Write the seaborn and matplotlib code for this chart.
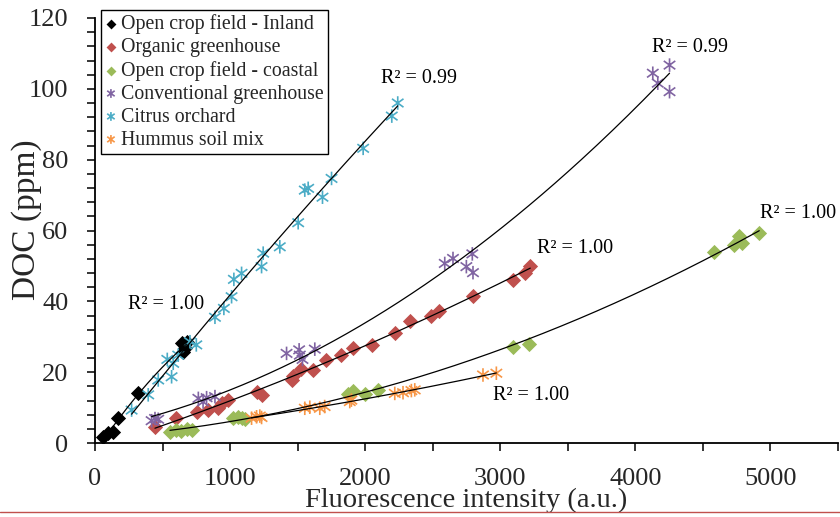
import numpy as np
import pandas as pd
import matplotlib
matplotlib.use("Agg")
import matplotlib.pyplot as plt
from matplotlib.lines import Line2D
from matplotlib.path import Path
from matplotlib.ticker import MultipleLocator
import seaborn as sns

# ---- data ----
inland_x = [62, 99, 135, 172, 320, 641, 653, 666, 678]
inland_y = [1.8, 2.7, 3.2, 7.0, 14.2, 28.1, 25.8, 26.7, 28.6]

organic_x = [444, 599, 757, 838, 912, 937, 986, 1196, 1233, 1455, 1467, 1528, 1615, 1713,
             1824, 1910, 2054, 2219, 2335, 2490, 2547, 2798, 3094, 3180, 3222]
organic_y = [4.6, 7.0, 8.7, 9.3, 9.8, 11.2, 12.1, 14.4, 13.6, 17.8, 18.9, 20.8, 20.6, 23.4,
             24.8, 26.7, 27.7, 31.1, 34.5, 35.9, 37.4, 41.5, 46.0, 47.9, 50.0]

coastal_x = [555, 600, 640, 680, 716, 1023, 1060, 1090, 1109, 1873, 1910, 1997, 2095,
             3094, 3212, 4585, 4733, 4764, 4793, 4917]
coastal_y = [3.2, 3.6, 3.4, 3.9, 3.8, 7.0, 7.4, 7.0, 6.8, 13.8, 14.8, 13.7, 15.0,
             27.0, 28.0, 54.0, 55.9, 58.4, 56.4, 59.4]

conv_x = [419, 444, 468, 765, 800, 826, 888, 1418, 1511, 1516, 1536, 1627,
          2589, 2650, 2749, 2793, 2798, 4129, 4166, 4253, 4253]
conv_y = [6.3, 6.9, 6.7, 12.6, 11.6, 12.8, 13.1, 25.3, 26.3, 24.8, 23.6, 26.5,
          50.7, 52.1, 49.8, 53.4, 48.1, 104.4, 101.6, 106.7, 99.2]

citrus_x = [271, 394, 468, 535, 567, 579, 616, 703, 750, 888, 954, 1011, 1028, 1085,
            1233, 1245, 1368, 1504, 1553, 1578, 1684, 1751, 1985, 2197, 2241]
citrus_y = [9.3, 13.6, 17.8, 23.6, 18.7, 22.5, 24.8, 28.6, 27.7, 35.5, 38.0, 41.3, 46.2, 47.9,
            49.8, 53.6, 55.4, 62.2, 71.4, 71.9, 69.4, 74.7, 83.2, 92.3, 96.0]

humus_x = [1159, 1196, 1220, 1233, 1553, 1590, 1664, 1700, 1886, 1898, 2219, 2280, 2342,
           2367, 2872, 2971]
humus_y = [7.0, 7.4, 7.6, 7.2, 9.8, 10.1, 9.8, 10.3, 11.7, 12.1, 14.0, 14.2, 14.8,
           15.0, 19.2, 19.7]

series_names = ["Open crop field - Inland", "Organic greenhouse", "Open crop field - coastal",
                "Conventional greenhouse", "Citrus orchard", "Hummus soil mix"]
r2_labels = ["R\u00b2 = 1.00", "R\u00b2 = 1.00", "R\u00b2 = 1.00",
             "R\u00b2 = 0.99", "R\u00b2 = 0.99", "R\u00b2 = 1.00"]
x_ticks = [0, 1000, 2000, 3000, 4000, 5000]
y_ticks = [0, 20, 40, 60, 80, 100, 120]

# ---- style ----
sns.set_theme(style="white")
plt.rcParams["font.family"] = ["Liberation Serif", "DejaVu Serif"]

colors = ["#000000", "#C0504D", "#9BBB59", "#8064A2", "#4BACC6", "#F79646"]
M, L = Path.MOVETO, Path.LINETO
ast = Path([(0, -1), (0, 1), (-0.85, -0.62), (0.85, 0.62), (-0.85, 0.62), (0.85, -0.62)],
           [M, L, M, L, M, L])
markers = ["D", "D", "D", ast, ast, ast]
xs = [inland_x, organic_x, coastal_x, conv_x, citrus_x, humus_x]
ys = [inland_y, organic_y, coastal_y, conv_y, citrus_y, humus_y]
label_pos = [(525, 39.0), (3557, 54.8), (5207, 64.7), (4408, 111.8), (2396, 102.8), (3225, 13.3)]

W, H = 840, 517
fig = plt.figure(figsize=(W / 100, H / 100), dpi=100)
ax = fig.add_axes([95 / W, 1 - 443 / H, (838 - 95) / W, (443 - 18) / H])

for name, x, y, c, m in zip(series_names, xs, ys, colors, markers):
    df = pd.DataFrame({"x": x, "y": y})
    if isinstance(m, str):
        sns.scatterplot(data=df, x="x", y="y", marker="D", color=c, s=60,
                        linewidth=0, ax=ax, label=name, zorder=2)
    else:
        sns.scatterplot(data=df, x="x", y="y", marker=m, color=c, edgecolor=c,
                        facecolor="none", s=95, linewidth=1.2, ax=ax, label=name, zorder=2)
    coef = np.polyfit(x, y, 2)
    xx = np.linspace(min(x), max(x), 200)
    ax.plot(xx, np.polyval(coef, xx), color="black", lw=0.9, zorder=3)

for lab, (tx, ty) in zip(r2_labels, label_pos):
    ax.text(tx, ty, lab, fontsize=14.5, ha="center", va="center", color="black")

ax.set_xlim(0, 5500)
ax.set_ylim(0, 120)
ax.set_xticks(x_ticks)
ax.set_yticks(y_ticks)
ax.xaxis.set_minor_locator(MultipleLocator(500))
ax.yaxis.set_minor_locator(MultipleLocator(4))
ax.tick_params(axis="both", which="both", direction="out", length=6, width=1.1,
               color="black", bottom=True, left=True)
ax.tick_params(axis="x", which="major", labelsize=19, pad=12)
ax.tick_params(axis="y", which="major", labelsize=19, pad=13)
for s in ["top", "right"]:
    ax.spines[s].set_visible(False)
for s in ["left", "bottom"]:
    ax.spines[s].set_color("black")
    ax.spines[s].set_linewidth(1.3)
ax.grid(False)
ax.set_xlabel("Fluorescence intensity (a.u.)", fontsize=20.5)
ax.set_ylabel("DOC (ppm)", fontsize=24)
ax.xaxis.set_label_coords(0.5, (443 - 488) / 425)
ax.yaxis.set_label_coords((42 - 95) / 743, (443 - 220) / 425)

leg = ax.legend(loc="upper left", bbox_to_anchor=(101 / W, 1 - 10 / H),
                bbox_transform=fig.transFigure, fontsize=14.3, frameon=True,
                fancybox=False, shadow=False, borderaxespad=0, borderpad=0.2,
                labelspacing=0.2, handlelength=0.6, handletextpad=0.2, markerscale=0.65)
leg.get_frame().set_edgecolor("black")
leg.get_frame().set_linewidth(1.0)
leg.get_frame().set_alpha(1)
leg.set_zorder(5)

fig.add_artist(Line2D([0, 1], [1 - 512 / H, 1 - 512 / H], transform=fig.transFigure,
                      color="#C0504D", lw=1))

fig.savefig("out.png", dpi=100)
